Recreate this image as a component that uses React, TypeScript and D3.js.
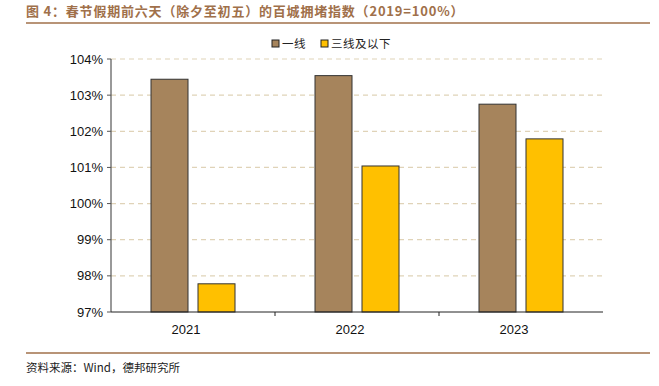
import React from "react";
import * as d3 from "d3";

const categories = ["2021", "2022", "2023"];
const seriesNames = ["一线", "三线及以下"];
const tier1 = [103.44, 103.54, 102.75];
const tier3 = [97.78, 101.04, 101.79];
const yTicks = [97, 98, 99, 100, 101, 102, 103, 104];

const colors = ["#a6845c", "#ffc000"];

export default function App() {
  const W = 659, H = 386;
  const left = 111, right = 603, top = 59, bottom = 312;
  const x = d3.scaleBand().domain(categories).range([left, right]);
  const y = d3.scaleLinear().domain([97, 104]).range([bottom, top]);
  const series = [tier1, tier3];
  const barW = 37;
  const offsets = [-42, 5];
  const font = "'Liberation Sans', Arial, sans-serif";
  const cjk = "'Noto Sans CJK SC', sans-serif";
  return (
    <svg width={W} height={H} style={{ position: "absolute", left: 0, top: 0, background: "#fff" }}>
      <text x={26} y={16} fontFamily={cjk} fontWeight="bold" fontSize={13} letterSpacing={0.8} fill="#a0704a">
        图 4：春节假期前六天（除夕至初五）的百城拥堵指数（2019=100%）
      </text>
      <line x1={26} x2={650} y1={23} y2={23} stroke="#a0704a" strokeWidth={1.5} />
      {/* legend */}
      {seriesNames.map((n, i) => {
        const lx = [272, 321][i];
        return (
          <g key={n}>
            <rect x={lx} y={40} width={7} height={7} fill={colors[i]} stroke="#222" strokeWidth={1} />
            <text x={lx + 10} y={48} fontFamily={cjk} fontSize={11.5} letterSpacing={0.5} fill="#222">{n}</text>
          </g>
        );
      })}
      {/* grid */}
      {yTicks.slice(1).map((t) => (
        <line key={t} x1={left} x2={right} y1={y(t)} y2={y(t)} stroke="#e0d3b8" strokeWidth={1.2} strokeDasharray="5,4" />
      ))}
      {/* bars */}
      {categories.map((c, ci) =>
        series.map((s, si) => {
          const cx = x(c)! + x.bandwidth() / 2 + offsets[si];
          return (
            <rect key={c + si} x={cx} y={y(s[ci])} width={barW} height={bottom - y(s[ci])}
              fill={colors[si]} stroke="#333" strokeWidth={1} />
          );
        })
      )}
      {/* y axis */}
      <line x1={left} x2={left} y1={top} y2={bottom} stroke="#555" strokeWidth={1.2} />
      {yTicks.map((t) => (
        <g key={t}>
          <line x1={left - 4} x2={left} y1={y(t)} y2={y(t)} stroke="#555" />
          <text x={left - 8} y={y(t) + 4.5} textAnchor="end" fontFamily={font} fontSize={13} fill="#111">{t}%</text>
        </g>
      ))}
      {/* x axis */}
      <line x1={left} x2={right} y1={bottom} y2={bottom} stroke="#222" strokeWidth={1} />
      {categories.map((c, i) => (
        <g key={c}>
          {i > 0 && <line x1={x(c)!} x2={x(c)!} y1={bottom} y2={bottom + 4} stroke="#222" />}
          <text x={x(c)! + x.bandwidth() / 2 - 7} y={bottom + 22} textAnchor="middle" fontFamily={font} fontSize={13} fill="#111">{c}</text>
        </g>
      ))}
      <line x1={26} x2={650} y1={353} y2={353} stroke="#a0704a" strokeWidth={1.5} />
      <text x={26} y={372} fontFamily={cjk} fontSize={11.5} fill="#222">资料来源：Wind，德邦研究所</text>
    </svg>
  );
}
